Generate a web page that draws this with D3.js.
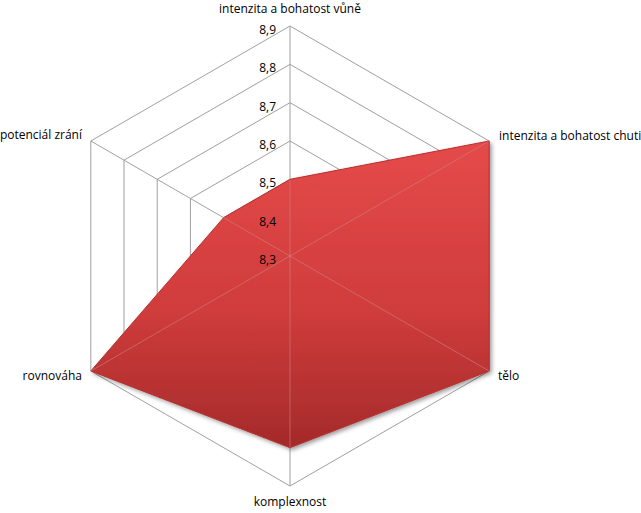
<!DOCTYPE html>
<html><head><meta charset="utf-8">
<script src="https://cdn.jsdelivr.net/npm/d3@7"></script>
<style>body{margin:0;background:#fff}svg{display:block}text{font-family:"Open Sans","Liberation Sans",sans-serif;font-size:12px;fill:#000}</style>
</head><body>
<script>
const categories = ["intenzita a bohatost vůně","intenzita a bohatost chuti","tělo","komplexnost","rovnováha","potenciál zrání"];
const values = [8.5, 8.9, 8.9, 8.8, 8.9, 8.5];
const ticks = [8.3, 8.4, 8.5, 8.6, 8.7, 8.8, 8.9];
const tickLabels = ["8,3","8,4","8,5","8,6","8,7","8,8","8,9"];

const W = 641, H = 513, cx = 290, cy = 256, R = 230;
const svg = d3.select("body").append("svg").attr("width", W).attr("height", H);
const r = d3.scaleLinear().domain([8.3, 8.9]).range([0, R]);
const ang = d3.scaleLinear().domain([0, categories.length]).range([0, 2*Math.PI]);
const pt = (i, v) => [cx + r(v)*Math.sin(ang(i)), cy - r(v)*Math.cos(ang(i))];

const defs = svg.append("defs");
const g = defs.append("linearGradient").attr("id","fillg").attr("x1",0).attr("y1",0).attr("x2",0).attr("y2",1);
g.append("stop").attr("offset","0%").attr("stop-color","#e54a4a");
g.append("stop").attr("offset","55%").attr("stop-color","#d03c3c");
g.append("stop").attr("offset","100%").attr("stop-color","#a42a2a");
const f = defs.append("filter").attr("id","sh").attr("x","-10%").attr("y","-10%").attr("width","120%").attr("height","120%");
f.append("feDropShadow").attr("dx",2).attr("dy",2).attr("stdDeviation",2).attr("flood-color","#000").attr("flood-opacity",0.4);

const line = d3.line();
ticks.forEach(t => {
  const pts = categories.map((c,i)=>pt(i,t));
  svg.append("path").attr("d", line(pts)+"Z").attr("fill","none").attr("stroke","#a0a0a0").attr("stroke-width",1);
});
categories.forEach((c,i)=>{
  const p = pt(i, 8.9);
  svg.append("line").attr("x1",cx).attr("y1",cy).attr("x2",p[0]).attr("y2",p[1]).attr("stroke","#a0a0a0");
});
svg.append("path").attr("d", line(values.map((v,i)=>pt(i,v)))+"Z")
  .attr("fill","url(#fillg)").attr("stroke","#b83030").attr("stroke-width",1).attr("filter","url(#sh)");
categories.forEach((c,i)=>{
  const p = pt(i, values[i]);
  svg.append("line").attr("x1",cx).attr("y1",cy).attr("x2",p[0]).attr("y2",p[1]).attr("stroke","#d08080").attr("stroke-opacity",0.6);
});
ticks.forEach((t,k)=>{
  svg.append("text").attr("x", cx-14).attr("y", cy - r(t) + 8).attr("text-anchor","end").text(tickLabels[k]);
});
const lab = [
  {x:290,y:13,a:"middle"},
  {x:499,y:140,a:"start"},
  {x:498,y:380,a:"start"},
  {x:290,y:506,a:"middle"},
  {x:82,y:380,a:"end"},
  {x:82,y:139,a:"end"}
];
categories.forEach((c,i)=>{
  svg.append("text").attr("x",lab[i].x).attr("y",lab[i].y).attr("text-anchor",lab[i].a).text(c);
});
</script>
</body></html>
